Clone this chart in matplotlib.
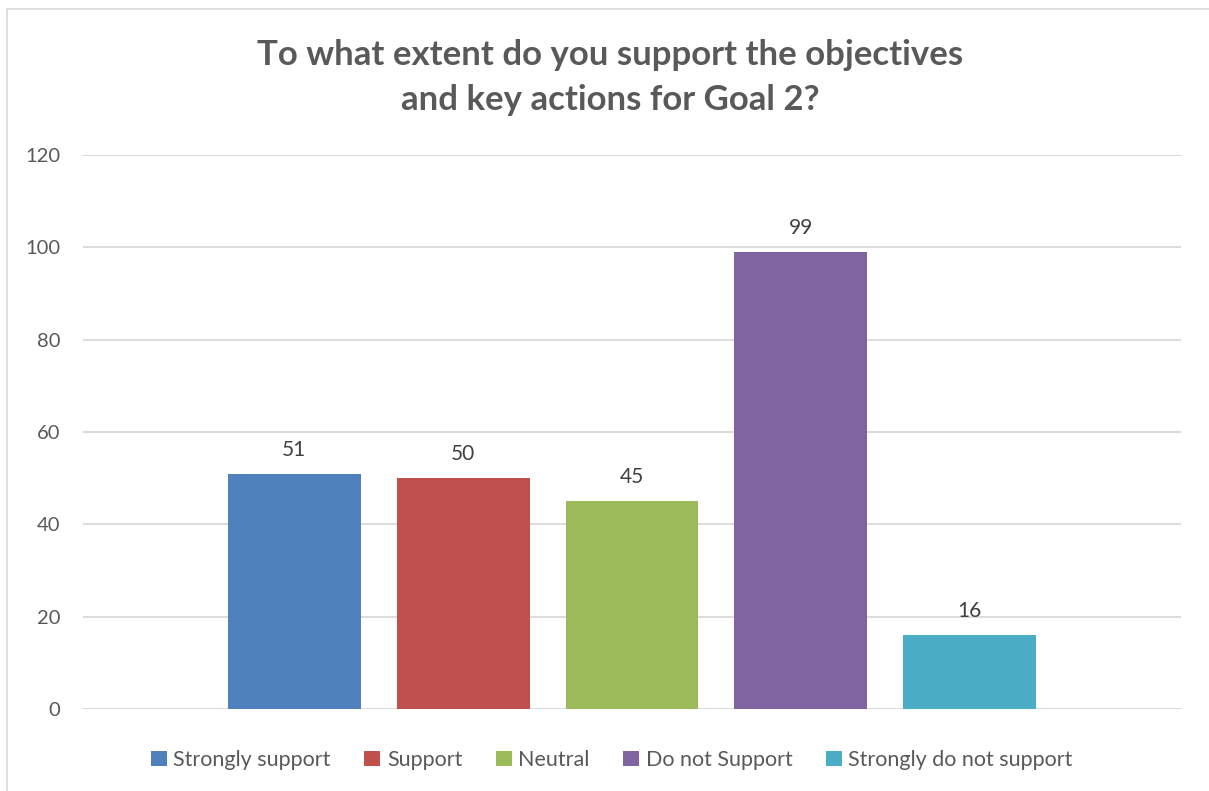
import matplotlib
matplotlib.use("Agg")
import matplotlib.pyplot as plt
from matplotlib.patches import Rectangle, Patch

# survey responses
categories = ["Strongly support", "Support", "Neutral", "Do not Support", "Strongly do not support"]
counts = [51, 50, 45, 99, 16]
colors = ["#4F81BD", "#C0504D", "#9BBB59", "#8064A2", "#4BACC6"]
yticks = [0, 20, 40, 60, 80, 100, 120]

plt.rcParams['font.family'] = ['Lato', 'DejaVu Sans']
text_col = "#595959"

fig = plt.figure(figsize=(12.09, 7.91), dpi=100)
ax = fig.add_axes([83/1209, 1 - 709/791, (1181 - 83)/1209, (709 - 155)/791])

x = list(range(len(counts)))
bars = ax.bar(x, counts, width=133/169, color=colors, zorder=3)
for xi, v in zip(x, counts):
    ax.text(xi, v + 3, str(v), ha='center', va='bottom', fontsize=15, color="#404040")

ax.set_xlim(-1.25, 5.25)
ax.set_ylim(0, 120)
ax.set_yticks(yticks)
ax.set_yticklabels([str(t) for t in yticks], fontsize=14.5, color=text_col)
ax.set_xticks([])
ax.tick_params(axis='y', length=0, pad=16.5)
ax.grid(axis='y', color="#D9D9D9", linewidth=1.3, zorder=0)
for s in ax.spines.values():
    s.set_visible(False)

fig.text(0.505, 1 - 55/791, "To what extent do you support the objectives",
         ha='center', va='center', fontsize=25, fontweight='bold', color=text_col)
fig.text(0.505, 1 - 100/791, "and key actions for Goal 2?",
         ha='center', va='center', fontsize=25, fontweight='bold', color=text_col)

handles = [Patch(facecolor=c, label=l) for c, l in zip(colors, categories)]
fig.legend(handles=handles, loc='center', bbox_to_anchor=(0.506, 1 - 760/791), ncol=5,
           frameon=False, fontsize=15.5, labelcolor=text_col, handlelength=0.75, handleheight=0.75,
           handletextpad=0.3, columnspacing=1.55)

# chart border
fig.patches.append(Rectangle((7/1209, -0.1), 1.2, 1 - 9/791 + 0.1, transform=fig.transFigure,
                             fill=False, edgecolor="#D9D9D9", linewidth=1.2))

fig.savefig("out.png", dpi=100)
